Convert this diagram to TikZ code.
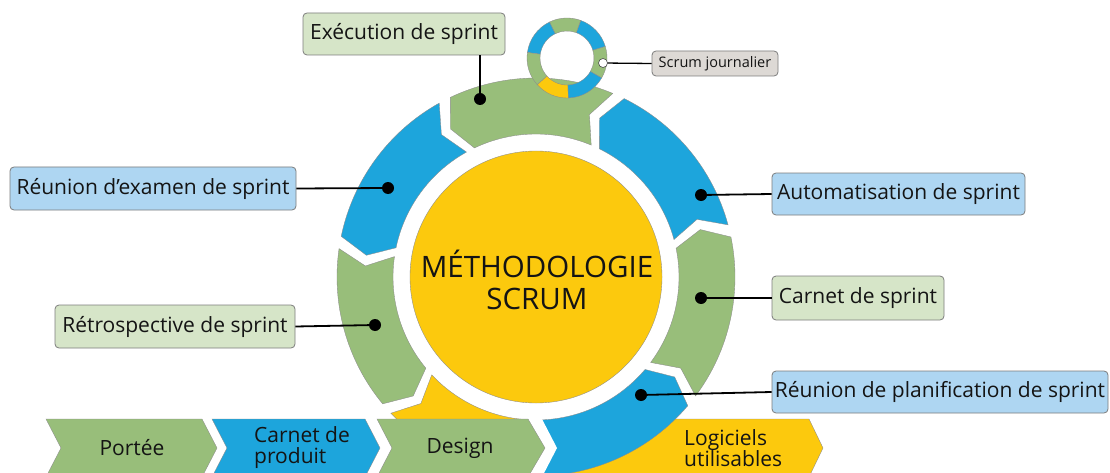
\documentclass[tikz,border=0pt]{standalone}
\usepackage{fontspec}
\setmainfont{Open Sans}
\definecolor{sgreen}{RGB}{152,190,122}
\definecolor{sblue}{RGB}{29,165,220}
\definecolor{syellow}{RGB}{252,201,13}
\definecolor{lgreen}{RGB}{214,229,200}
\definecolor{lblue}{RGB}{174,214,242}
\definecolor{lgray}{RGB}{221,217,213}
\definecolor{boxgray}{RGB}{125,125,125}
\definecolor{txt}{RGB}{20,20,20}
\newcommand{\lblfont}{\fontsize{21}{24}\selectfont}
\newcommand{\smlfont}{\fontsize{14.5}{17}\selectfont}
\newcommand{\bigfont}{\fontsize{29.5}{32}\selectfont}
\newcommand{\rowfont}{\fontsize{21}{21}\selectfont}
\def\gapang{1.8}
\def\tipang{4.5}
\def\ringout{199pt}
\def\ringin{143pt}
\def\ringmid{171pt}
\newcommand{\rseg}[3]{%
  \path[fill=#1,segline] (#2+\gapang:\ringout) arc[start angle=#2+\gapang, end angle=#3-\gapang, radius=\ringout]
   -- (#3-\gapang+\tipang:\ringmid) -- (#3-\gapang:\ringin)
   arc[start angle=#3-\gapang, end angle=#2+\gapang, radius=\ringin]
   -- (#2+\gapang+\tipang:\ringmid) -- cycle;}
\newcommand{\sseg}[3]{%
  \path[fill=#1,segline] (#2:40pt) arc[start angle=#2, end angle=#3, radius=40pt]
   -- (#3:27pt) arc[start angle=#3, end angle=#2, radius=27pt] -- cycle;}
\begin{document}
\begin{tikzpicture}[x=1pt,y=1pt,
  segline/.style={draw=black!45,line width=0.35pt},
  lbox/.style={draw=boxgray,line width=0.8pt,rounded corners=4pt,inner sep=0pt,font=\lblfont,text=txt},
  dotnode/.style={circle,fill=black,inner sep=0pt,minimum size=12pt},
  conn/.style={draw=black,line width=1.8pt},
  rowtext/.style={font=\rowfont,text=txt,inner sep=0pt}]
\useasboundingbox (0,0) rectangle (1110,472);
\fill[white] (0,0) rectangle (1110,472);
% Logiciels arrow (behind ring)
\path[fill=syellow,segline] (600,53) -- (809,53) -- (823,24) -- (809,-5) -- (560,-5) -- cycle;
% main ring
\begin{scope}[shift={(536,195)}]
  \rseg{sblue}{13.4}{65.5}
  \rseg{sgreen}{65.5}{117.3}
  \rseg{sblue}{117.3}{170}
  \rseg{sgreen}{170}{221.4}
  \rseg{syellow}{221.4}{268}
  \rseg{sblue}{268}{321.5}
  \rseg{sgreen}{321.5}{373.4}
  \path[fill=syellow,segline] (0,0) circle[radius=126pt];
\end{scope}
% white gap before the blue part of the row
\fill[white] (500,53) -- (542,53) -- (557,24) -- (542,-5) -- (500,-5) -- cycle;
% bottom row
\path[fill=sgreen,segline] (46,53) -- (202,53) -- (217,24) -- (202,-5) -- (46,-5) -- (61,24) -- cycle;
\path[fill=sblue,segline] (212,53) -- (365,53) -- (380,24) -- (365,-5) -- (212,-5) -- (227,24) -- cycle;
\path[fill=sgreen,segline] (377,53) -- (528,53) -- (545,24) -- (528,-5) -- (377,-5) -- (392,24) -- cycle;
\node[rowtext] (tportee) at (132,24) {Portée};
\node[rowtext,anchor=west,align=left] (tproduit) at (254,24) {Carnet de\\produit};
\node[rowtext] (tdesign) at (460,24) {Design};
\node[rowtext,anchor=west,align=left] (tlog) at (684,24) {Logiciels\\utilisables};
% small ring
\begin{scope}[shift={(567,414)}]
  \sseg{sgreen}{-30}{17}
  \sseg{sblue}{17}{70}
  \sseg{sgreen}{70}{116}
  \sseg{sblue}{116}{172}
  \sseg{sgreen}{172}{222}
  \sseg{syellow}{222}{272}
  \sseg{sblue}{272}{330}
\end{scope}
% centre text
\node[font=\bigfont,text=txt,align=center,inner sep=0pt] (centre) at (537,192) {MÉTHODOLOGIE\\SCRUM};
% labels
\node[lbox,fill=lgreen,minimum width=202pt,minimum height=42pt] (exec) at (404,438) {Exécution de sprint};
\node[lbox,fill=lgray,minimum width=126pt,minimum height=25pt,font=\smlfont] (daily) at (715,408.5) {Scrum journalier};
\node[lbox,fill=lblue,minimum width=286pt,minimum height=43pt] (exam) at (153,283.5) {Réunion d’examen de sprint};
\node[lbox,fill=lgreen,minimum width=240pt,minimum height=43pt] (retro) at (175,145.5) {Rétrospective de sprint};
\node[lbox,fill=lblue,minimum width=253pt,minimum height=42pt] (auto) at (898.5,278) {Automatisation de sprint};
\node[lbox,fill=lgreen,minimum width=172pt,minimum height=44pt] (carnet) at (858,174) {Carnet de sprint};
\node[lbox,fill=lblue,minimum width=336pt,minimum height=42pt] (plan) at (940,80) {Réunion de planification de sprint};
% dots
\node[dotnode] (dexec) at (480,373) {};
\node[dotnode] (dexam) at (388,284) {};
\node[dotnode] (dretro) at (375,147) {};
\node[dotnode] (dauto) at (701,277) {};
\node[dotnode] (dcarnet) at (701,174) {};
\node[dotnode] (dplan) at (641,77) {};
% connectors
\draw[conn] (dexec) -- (dexec |- exec.south);
\draw[conn] (exam.east) -- (dexam);
\draw[conn] (retro.east) -- (dretro);
\draw[conn] (dauto) -- (auto.west);
\draw[conn] (dcarnet) -- (carnet.west);
\draw[conn] (dplan) -- (plan.west);
\draw[conn,line width=1.3pt] (603,409) -- (daily.west);
\node[circle,fill=white,draw=black!70,line width=0.6pt,inner sep=0pt,minimum size=9pt] (djour) at (603,409) {};
\end{tikzpicture}
\end{document}
